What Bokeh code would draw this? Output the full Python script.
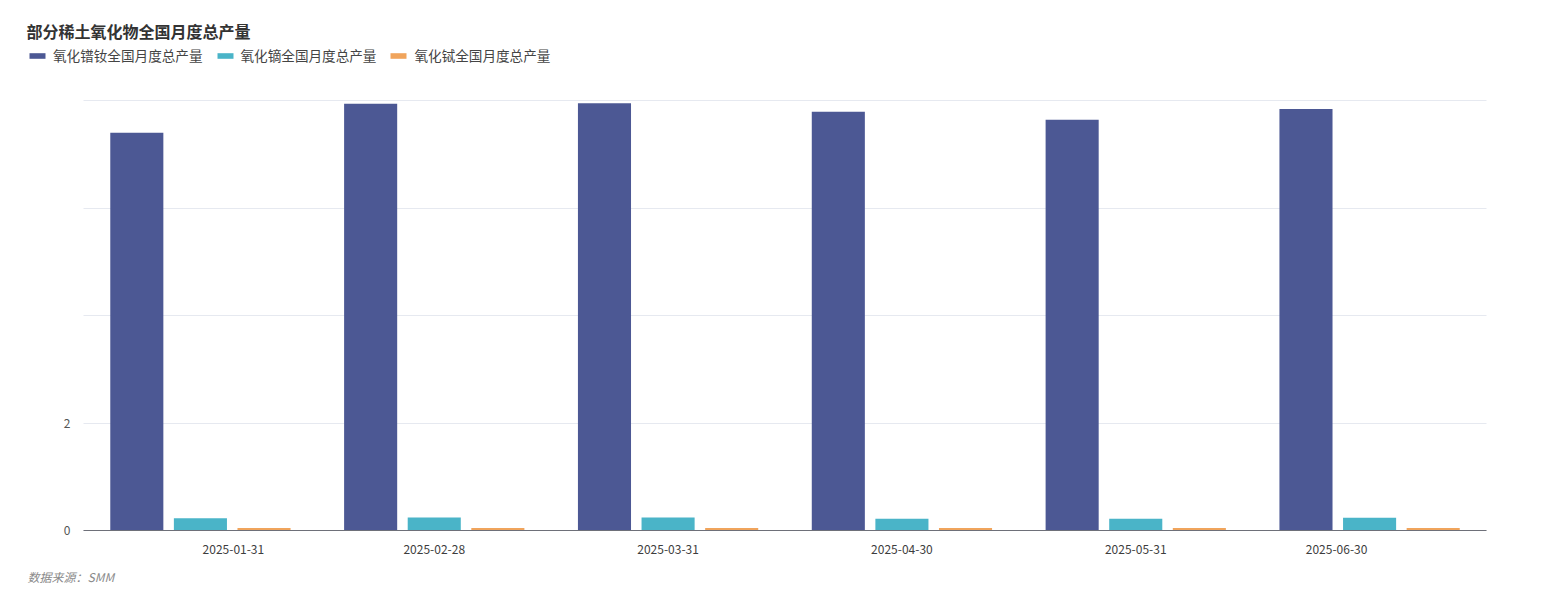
from bokeh.plotting import figure
from bokeh.models import (ColumnDataSource, FixedTicker, Legend, LegendItem, Label, Range1d)
from bokeh.embed import file_html
from bokeh.resources import INLINE

# ---- data ----
dates = ["2025-01-31", "2025-02-28", "2025-03-31", "2025-04-30", "2025-05-31", "2025-06-30"]
prnd = [7.40, 7.94, 7.95, 7.79, 7.64, 7.84]      # 氧化镨钕
dy = [0.23, 0.24, 0.24, 0.22, 0.22, 0.235]        # 氧化镝
tb = [0.045, 0.045, 0.045, 0.045, 0.045, 0.045]   # 氧化铽
series_names = ["氧化镨钕全国月度总产量", "氧化镝全国月度总产量", "氧化铽全国月度总产量"]
y_ticks = [0, 2, 4, 6, 8]
y_tick_labels = ["0", "2", "", "", ""]
title_text = "部分稀土氧化物全国月度总产量"
source_text = "数据来源：SMM"

# ---- styling / layout ----
W, H = 1541, 600
plot_left, plot_right, plot_top, plot_bottom = 83, 1486, 100, 530   # pixel box of the data area
colors = ["#4c5894", "#4ab4c8", "#f0a45c"]
FONT = "Noto Sans CJK SC"
bar_w = 0.227
dodge = 0.272
label_nudge = [0.141, 0, 0, 0, 0, -0.141]

n = len(dates)
x_lo, x_hi = -0.5, n - 0.5
y_lo, y_hi = 0, max(y_ticks)
px_x = (plot_right - plot_left) / (x_hi - x_lo)
px_y = (plot_bottom - plot_top) / (y_hi - y_lo)

xs = list(range(n))
src = ColumnDataSource(dict(
    x0=[x - dodge for x in xs], x1=list(xs), x2=[x + dodge for x in xs],
    prnd=prnd, dy=dy, tb=tb,
))

p = figure(width=W, height=H, output_backend="svg", toolbar_location=None, title=None,
           x_range=Range1d(x_lo - plot_left / px_x, x_hi + (W - plot_right) / px_x),
           y_range=Range1d(y_lo - (H - plot_bottom) / px_y, y_hi + plot_top / px_y),
           min_border=0, background_fill_color="white", border_fill_color="white")
p.outline_line_color = None

r1 = p.vbar(x="x0", top="prnd", width=bar_w, source=src, color=colors[0], line_color=None)
r2 = p.vbar(x="x1", top="dy", width=bar_w, source=src, color=colors[1], line_color=None)
r3 = p.vbar(x="x2", top="tb", width=bar_w, source=src, color=colors[2], line_color=None)

# x axis (drawn at y=0 inside the canvas, line limited to the category span)
tick_pos = [x + d for x, d in zip(xs, label_nudge)]
xax = p.xaxis[0]
xax.fixed_location = 0
xax.bounds = (x_lo, x_hi)
xax.ticker = FixedTicker(ticks=tick_pos)
xax.major_label_overrides = {t: d for t, d in zip(tick_pos, dates)}
xax.axis_line_color = "#6e7079"
xax.major_tick_line_color = None
xax.minor_tick_line_color = None
xax.major_label_standoff = 8
xax.major_label_text_font = FONT
xax.major_label_text_font_size = "12px"
xax.major_label_text_color = "#3d3d3d"
p.xgrid.grid_line_color = None

# y axis
yax = p.yaxis[0]
yax.fixed_location = x_lo
yax.ticker = FixedTicker(ticks=y_ticks)
yax.major_label_overrides = {t: l for t, l in zip(y_ticks, y_tick_labels)}
yax.axis_line_color = None
yax.major_tick_line_color = None
yax.minor_tick_line_color = None
yax.major_label_standoff = 7
yax.major_label_text_font = FONT
yax.major_label_text_font_size = "12px"
yax.major_label_text_color = "#555555"

grid_ok = True
try:
    p.ygrid[0].cross_bounds = (x_lo, x_hi)
    p.ygrid[0].bounds = (y_lo, y_hi)
except Exception:
    grid_ok = False
if grid_ok:
    p.ygrid.ticker = FixedTicker(ticks=y_ticks)
    p.ygrid.grid_line_color = "#e6e9f0"
    p.ygrid.grid_line_width = 1
else:
    p.ygrid.grid_line_color = None
    p.segment(x0=[x_lo] * len(y_ticks), x1=[x_hi] * len(y_ticks), y0=y_ticks, y1=y_ticks,
              line_color="#e6e9f0", line_width=1, level="underlay")

# legend
legend = Legend(items=[LegendItem(label=series_names[0], renderers=[r1]),
                       LegendItem(label=series_names[1], renderers=[r2]),
                       LegendItem(label=series_names[2], renderers=[r3])],
                orientation="horizontal", location=(27, H - 65),
                glyph_width=20, glyph_height=7, label_standoff=6, spacing=12,
                padding=0, margin=0, border_line_color=None, background_fill_alpha=0,
                label_text_font=FONT, label_text_font_size="13.6px", label_text_color="#444444",
                label_height=16)
p.add_layout(legend)

# title & source
p.add_layout(Label(x=26, y=H - 30, x_units="screen", y_units="screen", text=title_text,
                   text_font=FONT, text_font_size="16px", text_font_style="bold",
                   text_color="#333333", text_baseline="middle"))
p.add_layout(Label(x=27, y=H - 576, x_units="screen", y_units="screen", text=source_text,
                   text_font=FONT, text_font_size="12px", text_font_style="italic",
                   text_color="#8a8a8a", text_baseline="middle"))

open("out.html", "w").write(file_html(p, INLINE))
